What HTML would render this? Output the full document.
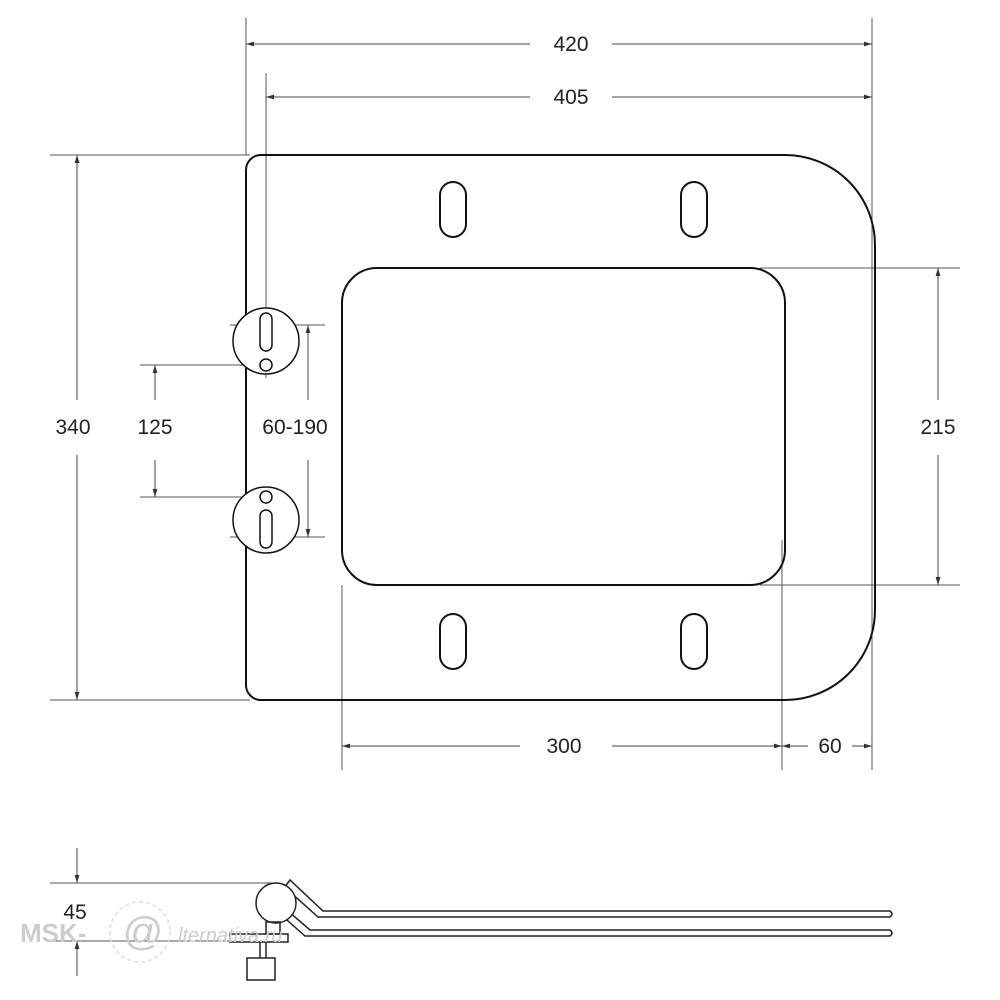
<!DOCTYPE html>
<html><head><style>
html,body{margin:0;background:#fff;}
svg{display:block;}
text{font-family:"Liberation Sans",sans-serif;font-size:21px;fill:#222;}
</style></head><body>
<svg width="1000" height="1000" viewBox="0 0 1000 1000" xmlns="http://www.w3.org/2000/svg">
<defs>
<marker id="a" viewBox="0 0 10 10" refX="10" refY="5" markerWidth="8" markerHeight="10" orient="auto-start-reverse"><path d="M0,2 L10,5 L0,8 z" fill="#333"/></marker>
</defs>
<g stroke="#555" stroke-width="1" fill="none">
<!-- extension lines -->
<line x1="246" y1="18" x2="246" y2="155"/>
<line x1="872" y1="18" x2="872" y2="770"/>
<line x1="266" y1="73" x2="266" y2="378"/>
<line x1="50" y1="155" x2="250" y2="155"/>
<line x1="50" y1="700" x2="250" y2="700"/>
<line x1="140" y1="365" x2="290" y2="365"/>
<line x1="140" y1="497" x2="290" y2="497"/>
<line x1="230" y1="325" x2="325" y2="325"/>
<line x1="230" y1="537" x2="325" y2="537"/>
<line x1="760" y1="268" x2="960" y2="268"/>
<line x1="760" y1="585" x2="960" y2="585"/>
<line x1="342" y1="585" x2="342" y2="770"/>
<line x1="782" y1="540" x2="782" y2="770"/>
<line x1="50" y1="883" x2="272" y2="883"/>
<line x1="50" y1="941" x2="230" y2="941"/>
</g>
<g stroke="#444" stroke-width="1" fill="none">
<line x1="246" y1="44" x2="530" y2="44" marker-start="url(#a)"/>
<line x1="612" y1="44" x2="872" y2="44" marker-end="url(#a)"/>
<line x1="266" y1="97" x2="530" y2="97" marker-start="url(#a)"/>
<line x1="612" y1="97" x2="872" y2="97" marker-end="url(#a)"/>
<line x1="77" y1="155" x2="77" y2="400" marker-start="url(#a)"/>
<line x1="77" y1="455" x2="77" y2="700" marker-end="url(#a)"/>
<line x1="155" y1="365" x2="155" y2="400" marker-start="url(#a)"/>
<line x1="155" y1="460" x2="155" y2="497" marker-end="url(#a)"/>
<line x1="308" y1="325" x2="308" y2="400" marker-start="url(#a)"/>
<line x1="308" y1="460" x2="308" y2="537" marker-end="url(#a)"/>
<line x1="938" y1="268" x2="938" y2="400" marker-start="url(#a)"/>
<line x1="938" y1="455" x2="938" y2="585" marker-end="url(#a)"/>
<line x1="342" y1="746" x2="520" y2="746" marker-start="url(#a)"/>
<line x1="612" y1="746" x2="782" y2="746" marker-end="url(#a)"/>
<line x1="782" y1="746" x2="808" y2="746" marker-start="url(#a)"/>
<line x1="852" y1="746" x2="872" y2="746" marker-end="url(#a)"/>
<line x1="77" y1="848" x2="77" y2="883" marker-end="url(#a)"/>
<line x1="77" y1="976" x2="77" y2="941" marker-end="url(#a)"/>
</g>
<g fill="none" stroke="#111" stroke-width="2">
<path d="M261,155 H785 A90,90 0 0 1 875,245 V610 A90,90 0 0 1 785,700 H261 A15,15 0 0 1 246,685 V170 A15,15 0 0 1 261,155 Z"/>
<rect x="342" y="268" width="443" height="317" rx="35"/>
<rect x="440" y="182" width="26" height="55" rx="13"/>
<rect x="681" y="182" width="26" height="55" rx="13"/>
<rect x="440" y="614" width="26" height="55" rx="13"/>
<rect x="681" y="614" width="26" height="55" rx="13"/>
</g>
<g fill="#fff" stroke="#111" stroke-width="1.5">
<circle cx="266" cy="341" r="33"/>
<rect x="260" y="313" width="12" height="38" rx="6"/>
<circle cx="266" cy="365" r="6"/>
<circle cx="266" cy="520" r="33"/>
<rect x="260" y="510" width="12" height="38" rx="6"/>
<circle cx="266" cy="497" r="6"/>
</g>
<!-- side view -->
<g fill="none" stroke="#222" stroke-width="1.5">
<path d="M284,888 L290,880 L323,911 L890,911 Q894,914 890,917 L318,917 L280,883"/>
<path d="M267,893 L310,930 L890,930 Q894,933 890,936 L305,936 L262,898"/>
<circle cx="276" cy="903" r="20" fill="#fff"/>
<rect x="230" y="934" width="58" height="8" fill="#fff"/>
<rect x="266" y="922" width="14" height="12"/>
<line x1="260" y1="942" x2="260" y2="958"/><line x1="266" y1="942" x2="266" y2="958"/>
<rect x="247" y="958" width="28" height="22" fill="#fff"/>
</g>
<text x="571" y="51" text-anchor="middle">420</text>
<text x="571" y="104" text-anchor="middle">405</text>
<text x="73" y="434" text-anchor="middle">340</text>
<text x="155" y="434" text-anchor="middle">125</text>
<text x="295" y="434" text-anchor="middle">60-190</text>
<text x="938" y="434" text-anchor="middle">215</text>
<text x="564" y="753" text-anchor="middle">300</text>
<text x="830" y="753" text-anchor="middle">60</text>
<text x="75" y="919" text-anchor="middle">45</text>
<text x="20" y="942" style="font-size:26px;font-weight:bold;fill:#ccc">MSK-</text>
<circle cx="140" cy="932" r="30" fill="none" stroke="#ddd" stroke-width="1.5" stroke-dasharray="4 3"/>
<text x="122" y="945" style="font-size:40px;fill:#ccc;font-style:italic">@</text>
<text x="178" y="942" style="font-size:20px;fill:#ccc;font-style:italic">lternativa.ru</text>
</svg>
</body></html>
